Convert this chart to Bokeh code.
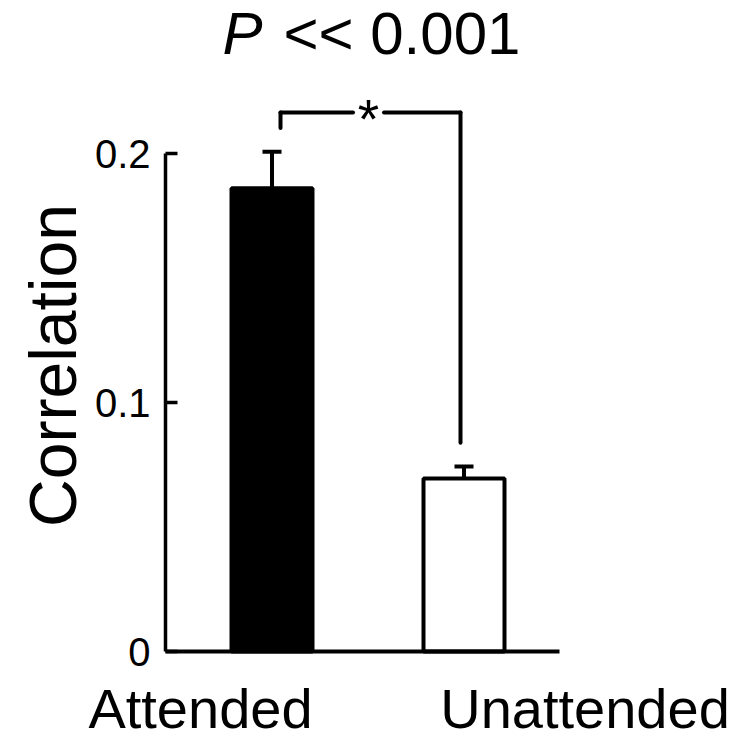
import math
from bokeh.plotting import figure
from bokeh.models import Range1d, FixedTicker, Label
from bokeh.embed import file_html
from bokeh.resources import INLINE

# --- data -------------------------------------------------------------
conditions = ["Attended", "Unattended"]
positions = [1, 2]
means = [0.186, 0.0695]          # mean correlation
sems = [0.0147, 0.0048]          # standard error of the mean
bar_colors = ["black", "white"]
y_ticks = [0, 0.1, 0.2]
y_tick_labels = {0: "0", 0.1: "0.1", 0.2: "0.2"}
p_text = "<< 0.001"

FONT = "Liberation Sans"

# --- canvas / scales --------------------------------------------------
W, H = 753, 743
px_per_x = 192.0                 # pixels per unit between the two bars
px_per_y = 2490.0                # pixels per unit of correlation
bar1_px, zero_px = 271.5, 651    # canvas position of x=1 and y=0


def dx(px):
    return 1 + (px - bar1_px) / px_per_x


def dy(py):
    return (zero_px - py) / px_per_y


p = figure(width=W, height=H, output_backend="svg", toolbar_location=None,
           title=None, min_border=0,
           x_range=Range1d(dx(0), dx(W)), y_range=Range1d(dy(H), dy(0)))
p.outline_line_color = None
p.xgrid.visible = False
p.ygrid.visible = False
p.background_fill_color = "white"
p.border_fill_color = "white"

axis_x = dx(165)

# y axis: inward ticks, line only from 0 to 0.2
ya = p.yaxis[0]
ya.fixed_location = axis_x
ya.ticker = FixedTicker(ticks=y_ticks)
ya.major_label_overrides = y_tick_labels
ya.bounds = (0, 0.2)
ya.axis_line_width = 3.5
ya.major_tick_line_width = 3.5
ya.major_tick_in = 12
ya.major_tick_out = 0
ya.minor_tick_line_color = None
ya.major_label_text_font = FONT
ya.major_label_text_font_size = "40px"
ya.major_label_text_color = "black"
ya.major_label_standoff = 15

# x axis: just the baseline
xa = p.xaxis[0]
xa.fixed_location = 0
xa.bounds = (axis_x, dx(559))
xa.axis_line_width = 4
xa.major_tick_line_color = None
xa.minor_tick_line_color = None
xa.major_label_text_font_size = "0px"
xa.ticker = FixedTicker(ticks=[])

# --- bars and error bars ---------------------------------------------
bar_w = 81 / px_per_x
p.vbar(x=positions, top=means, width=bar_w, bottom=0,
       fill_color=bar_colors, line_color="black", line_width=4)

tops = [m + s for m, s in zip(means, sems)]
cap_half = 9.5 / px_per_x
p.segment(x0=positions, y0=means, x1=positions, y1=tops,
          line_color="black", line_width=4)
p.segment(x0=[x - cap_half for x in positions], y0=tops,
          x1=[x + cap_half for x in positions], y1=tops,
          line_color="black", line_width=4)

# --- significance bracket --------------------------------------------
bracket_y = dy(112)
gap = 0.0095
bx = [positions[0] + 8.5 / px_per_x, positions[1] - 3.5 / px_per_x]
star_x = dx(368)
star_gap = 15.5 / px_per_x
p.segment(x0=[bx[0], bx[0], star_x + star_gap, bx[1]],
          y0=[tops[0] + gap, bracket_y, bracket_y, bracket_y],
          x1=[bx[0], star_x - star_gap, bx[1], bx[1]],
          y1=[bracket_y, bracket_y, bracket_y, tops[1] + gap],
          line_color="black", line_width=4, line_cap="round")


def text(x_px, base_px, s, size, align="left", style="normal"):
    # text placed by its alphabetic baseline, given in canvas pixels
    p.add_layout(Label(x=dx(x_px), y=dy(base_px - 0.41 * size), text=s,
                       text_align=align, text_baseline="alphabetic",
                       text_font=FONT, text_font_size=f"{size}px",
                       text_font_style=style, text_color="black"))


text(368, 141, "*", 55, align="center")

# --- title ------------------------------------------------------------
text(222, 58, "P", 60, style="italic")
text(283, 58, p_text, 60)

# --- condition names under the bars ----------------------------------
text(200, 731, conditions[0], 56, align="center")
text(584.5, 731, conditions[1], 56, align="center")

# --- y axis title -----------------------------------------------------
p.add_layout(Label(x=dx(52), y=dy(365), text="Correlation",
                   text_align="center", text_baseline="middle",
                   text_font=FONT, text_font_size="66px",
                   text_color="black", angle=math.pi / 2))

open("out.html", "w").write(file_html(p, INLINE))
